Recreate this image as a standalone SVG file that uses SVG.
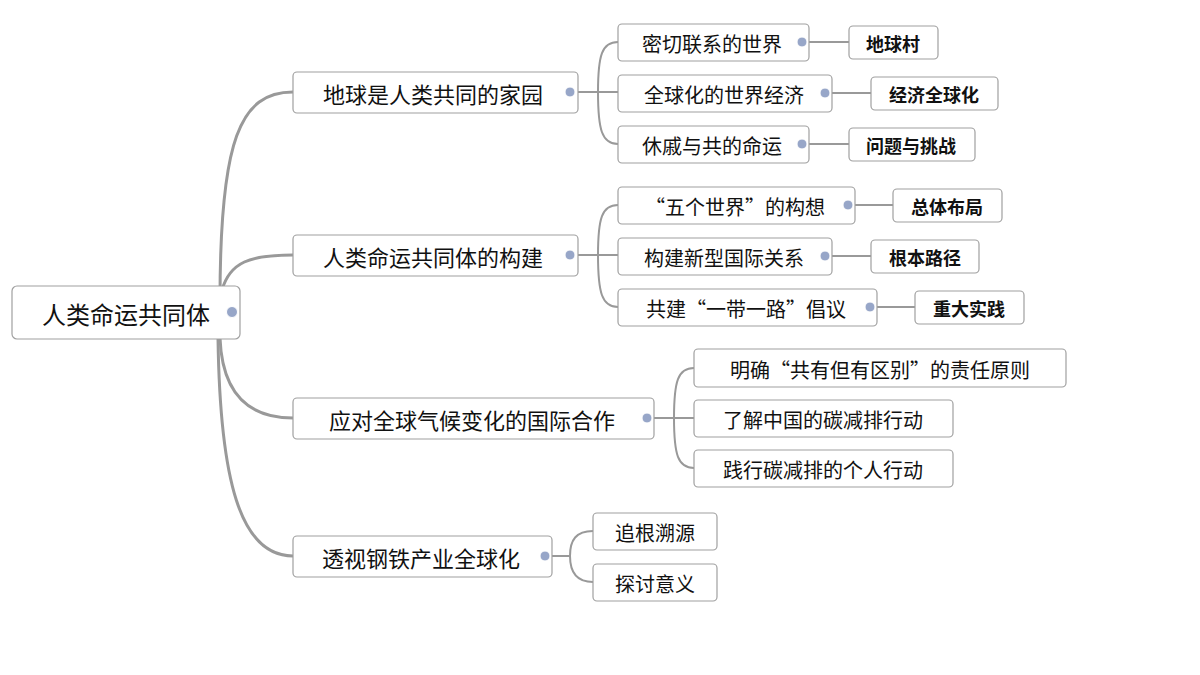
<svg xmlns="http://www.w3.org/2000/svg" width="1200" height="675" viewBox="0 0 1200 675">
<style>
rect{fill:#fff;stroke:#a0a0a0;stroke-width:1.2}
text{font-family:"Noto Sans CJK SC","Noto Sans",sans-serif;fill:#111;dominant-baseline:central;text-anchor:middle}
.r{font-size:24px}.l1{font-size:22px}.l2{font-size:20px}.lf{font-size:18px;font-weight:bold}
.ic{fill:#97a6c8;stroke:#fff;stroke-width:1}
.c path{fill:none;stroke:#999}
.t{stroke-width:3}.s{stroke-width:2}
</style>
<rect width="1200" height="675" style="fill:#fff;stroke:none"/>
<g class="c">
<path class="t" d="M220,300 C220,140 240,92 293,92"/>
<path class="t" d="M222,290 C230,262 250,255 293,255"/>
<path class="t" d="M220,338 C222,390 245,418 293,418"/>
<path class="t" d="M218,338 C220,480 240,556 293,556"/>
<path class="s" d="M578,92 H598 M598,92 C598,55 602,42 618,42 M598,92 H618 M598,92 C598,130 602,144 618,144"/>
<path class="s" d="M809,42 H849 M832,93 H871 M809,144 H849"/>
<path class="s" d="M578,255 H598 M598,255 C598,218 602,205 618,205 M598,255 H618 M598,255 C598,293 602,307 618,307"/>
<path class="s" d="M855,205 H893 M832,256 H871 M877,307 H915"/>
<path class="s" d="M654,418 H674 M674,418 C674,381 678,368 694,368 M674,418 H694 M674,418 C674,455 678,468 694,468"/>
<path class="s" d="M552,556 H570 M570,556 C570,540 576,531 593,531 M570,556 C570,572 576,582 593,582"/>
</g>
<g id="root"><rect x="12" y="286" width="228" height="53" rx="5"/><text class="r" x="126" y="313">人类命运共同体</text><circle class="ic" cx="232" cy="312" r="5.5"/></g>
<g id="n1"><rect x="293" y="72" width="285" height="41" rx="4"/><text class="l1" x="433" y="93">地球是人类共同的家园</text><circle class="ic" cx="570" cy="92" r="5"/></g>
<g id="n2"><rect x="293" y="235" width="285" height="41" rx="4"/><text class="l1" x="433" y="256">人类命运共同体的构建</text><circle class="ic" cx="570" cy="255" r="5"/></g>
<g id="n3"><rect x="293" y="398" width="361" height="41" rx="4"/><text class="l1" x="472" y="419">应对全球气候变化的国际合作</text><circle class="ic" cx="647" cy="418" r="5"/></g>
<g id="n4"><rect x="293" y="536" width="259" height="41" rx="4"/><text class="l1" x="421" y="557">透视钢铁产业全球化</text><circle class="ic" cx="545" cy="556" r="5"/></g>
<g id="a1"><rect x="618" y="24" width="191" height="37" rx="4"/><text class="l2" x="712" y="43">密切联系的世界</text><circle class="ic" cx="802" cy="42" r="5"/></g>
<g id="a1l"><rect x="849" y="26" width="89" height="33" rx="4"/><text class="lf" x="893" y="43">地球村</text></g>
<g id="a2"><rect x="618" y="75" width="214" height="37" rx="4"/><text class="l2" x="724" y="94">全球化的世界经济</text><circle class="ic" cx="825" cy="93" r="5"/></g>
<g id="a2l"><rect x="871" y="77" width="127" height="33" rx="4"/><text class="lf" x="934" y="94">经济全球化</text></g>
<g id="a3"><rect x="618" y="126" width="191" height="37" rx="4"/><text class="l2" x="712" y="145">休戚与共的命运</text><circle class="ic" cx="802" cy="144" r="5"/></g>
<g id="a3l"><rect x="849" y="128" width="126" height="33" rx="4"/><text class="lf" x="911" y="145">问题与挑战</text></g>
<g id="b1"><rect x="618" y="187" width="237" height="37" rx="4"/><text class="l2" x="735" y="206">“五个世界”的构想</text><circle class="ic" cx="848" cy="205" r="5"/></g>
<g id="b1l"><rect x="893" y="189" width="109" height="33" rx="4"/><text class="lf" x="947" y="206">总体布局</text></g>
<g id="b2"><rect x="618" y="238" width="214" height="37" rx="4"/><text class="l2" x="724" y="257">构建新型国际关系</text><circle class="ic" cx="825" cy="256" r="5"/></g>
<g id="b2l"><rect x="871" y="240" width="108" height="33" rx="4"/><text class="lf" x="925" y="257">根本路径</text></g>
<g id="b3"><rect x="618" y="289" width="259" height="37" rx="4"/><text class="l2" x="746" y="308">共建“一带一路”倡议</text><circle class="ic" cx="870" cy="307" r="5"/></g>
<g id="b3l"><rect x="915" y="291" width="109" height="33" rx="4"/><text class="lf" x="969" y="308">重大实践</text></g>
<g id="c1"><rect x="694" y="349" width="372" height="38" rx="4"/><text class="l2" x="880" y="369">明确“共有但有区别”的责任原则</text></g>
<g id="c2"><rect x="694" y="400" width="259" height="37" rx="4"/><text class="l2" x="823" y="419">了解中国的碳减排行动</text></g>
<g id="c3"><rect x="694" y="450" width="259" height="37" rx="4"/><text class="l2" x="823" y="469">践行碳减排的个人行动</text></g>
<g id="d1"><rect x="593" y="513" width="124" height="37" rx="4"/><text class="l2" x="655" y="532">追根溯源</text></g>
<g id="d2"><rect x="593" y="564" width="124" height="37" rx="4"/><text class="l2" x="655" y="583">探讨意义</text></g>
</svg>
